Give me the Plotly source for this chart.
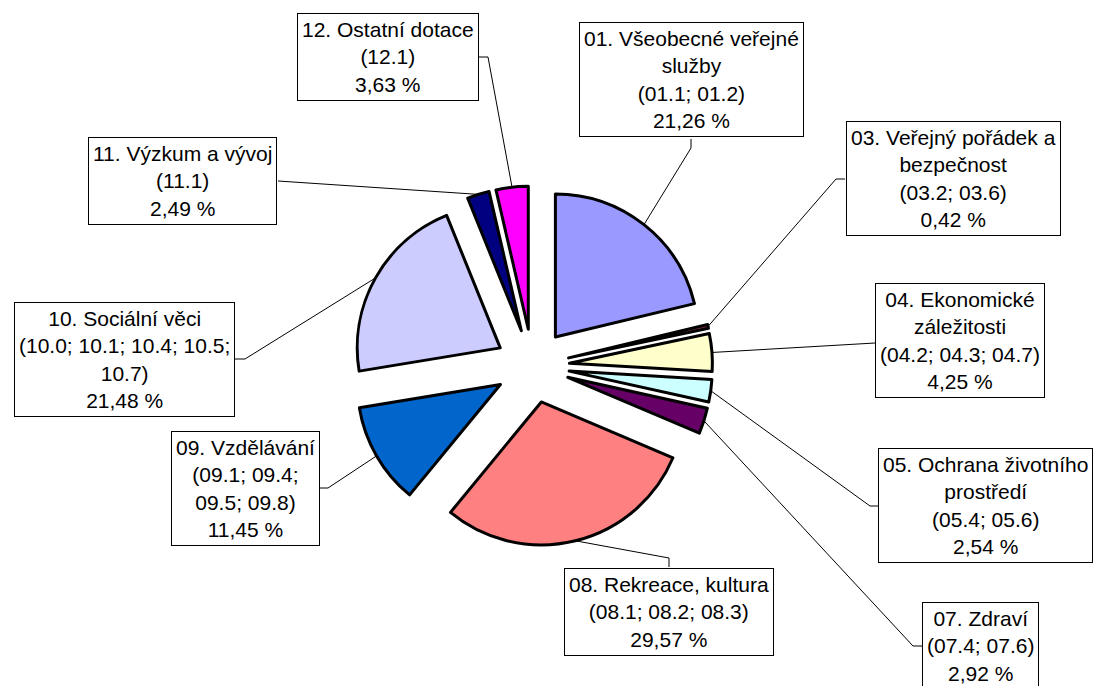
import math
import plotly.graph_objects as go

# ---- data -------------------------------------------------------------
titles = [
    "01. Všeobecné veřejné<br>služby",
    "03. Veřejný pořádek a<br>bezpečnost",
    "04. Ekonomické<br>záležitosti",
    "05. Ochrana životního<br>prostředí",
    "07. Zdraví",
    "08. Rekreace, kultura",
    "09. Vzdělávání",
    "10. Sociální věci",
    "11. Výzkum a vývoj",
    "12. Ostatní dotace",
]
codes = [
    "(01.1; 01.2)",
    "(03.2; 03.6)",
    "(04.2; 04.3; 04.7)",
    "(05.4; 05.6)",
    "(07.4; 07.6)",
    "(08.1; 08.2; 08.3)",
    "(09.1; 09.4;<br>09.5; 09.8)",
    "(10.0; 10.1; 10.4; 10.5;<br>10.7)",
    "(11.1)",
    "(12.1)",
]
shares = [21.26, 0.42, 4.25, 2.54, 2.92, 29.57, 11.45, 21.48, 2.49, 3.63]
colors = ["#9999FF", "#993366", "#FFFFCC", "#CCFFFF", "#660066",
          "#FF8080", "#0066CC", "#CCCCFF", "#000080", "#FF00FF"]

# ---- layout constants (pixels) -----------------------------------------
W, H = 1095, 686
CX, CY = 532.5, 366.0      # pie centre
R = 143.0                  # pie radius
PULL = 0.2587              # explode fraction
half = R * (1 + PULL)

# label box centres, attachment point on box, elbow point
label_layout = [
    dict(c=(691, 80),    a=(691, 139),   e=(691, 148)),
    dict(c=(953, 179),   a=(845, 179),   e=(836, 179)),
    dict(c=(960, 340),   a=(875, 343),   e=(875, 343)),
    dict(c=(985, 505),   a=(878, 506),   e=(870, 506)),
    dict(c=(980, 646),   a=(922, 646),   e=(913, 646)),
    dict(c=(669, 612),   a=(669, 567),   e=(669, 558)),
    dict(c=(245, 488),   a=(318, 488),   e=(328, 488)),
    dict(c=(124, 359),   a=(235, 359),   e=(245, 359)),
    dict(c=(182, 181),   a=(278, 181),   e=(278, 181)),
    dict(c=(388, 57),    a=(479, 57),    e=(488, 57)),
]

def px(x):
    return x / W

def py(y):
    return 1 - y / H

names = [t.replace("<br>", " ") for t in titles]

fig = go.Figure(go.Pie(
    values=shares,
    labels=names,
    sort=False,
    direction="clockwise",
    rotation=0,
    pull=[PULL] * len(shares),
    marker=dict(colors=colors, line=dict(color="black", width=3)),
    textinfo="none",
    hoverinfo="label+percent",
    showlegend=False,
    domain=dict(x=[px(CX - half), px(CX + half)],
                y=[py(CY + half), py(CY - half)]),
))

total = sum(shares)
cum = 0.0
annotations = []
shapes = []
for i, v in enumerate(shares):
    mid = (cum + v / 2) / total * 2 * math.pi
    cum += v
    sx = CX + half * math.sin(mid)
    sy = CY - half * math.cos(mid)
    lay = label_layout[i]
    (ax_, ay_), (ex, ey), (cx, cy) = lay["a"], lay["e"], lay["c"]
    shapes.append(dict(
        type="path", xref="paper", yref="paper",
        path=f"M {px(sx)},{py(sy)} L {px(ex)},{py(ey)} L {px(ax_)},{py(ay_)}",
        line=dict(color="black", width=1), layer="above",
    ))
    pct = f"{v:.2f}".replace(".", ",") + " %"
    annotations.append(dict(
        xref="paper", yref="paper", x=px(cx), y=py(cy),
        xanchor="center", yanchor="middle", showarrow=False,
        text=f"{titles[i]}<br>{codes[i]}<br>{pct}",
        align="center",
        font=dict(family="Liberation Sans, Arial, sans-serif", size=21, color="black"),
        bgcolor="white", bordercolor="black", borderwidth=1, borderpad=4,
    ))

fig.update_layout(
    width=W, height=H,
    margin=dict(l=0, r=0, t=0, b=0),
    paper_bgcolor="white", plot_bgcolor="white",
    shapes=shapes, annotations=annotations,
    showlegend=False,
)

fig.write_html("out.html",
               config={"displayModeBar": False},
               post_script="document.body.style.margin='0px';"
                           "document.body.style.overflow='hidden';")
